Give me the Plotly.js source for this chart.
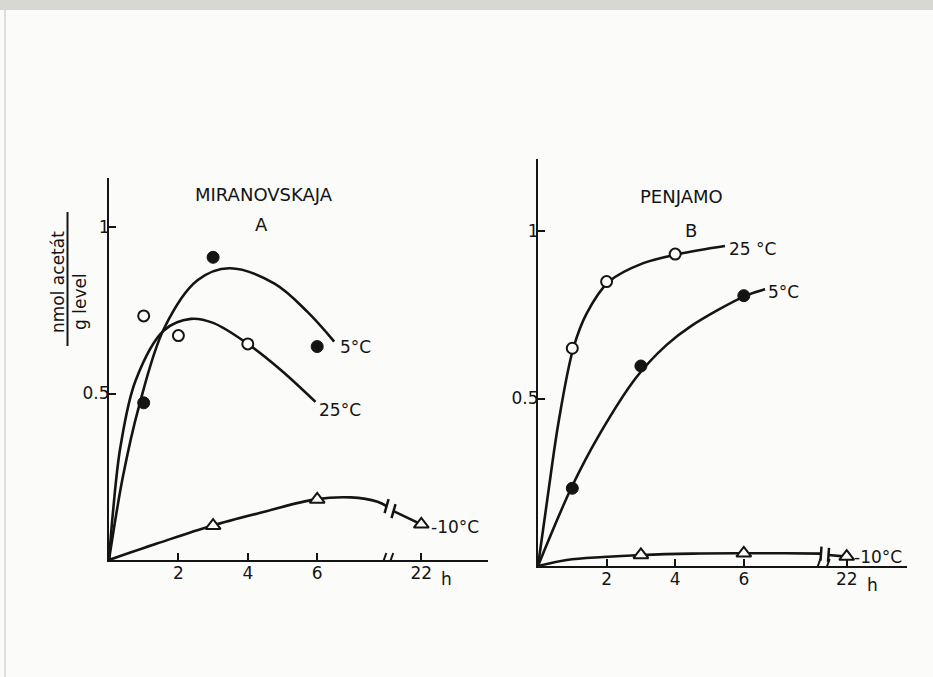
<!DOCTYPE html>
<html><head><meta charset="utf-8">
<script src="https://cdn.plot.ly/plotly-3.0.1.min.js"></script>
<style>html,body{margin:0;padding:0;background:#fbfbf9}</style>
</head><body><div id="chart" style="width:933px;height:677px"></div>
<script>
// ---------- data (hours, nmol acetát / g level) ----------
// Panel A: MIRANOVSKAJA
const A_5C_hours = [1, 3, 6];
const A_5C_vals  = [0.472, 0.909, 0.641];
const A_25C_hours = [1, 2, 4];
const A_25C_vals  = [0.733, 0.674, 0.649];
const A_m10_hours = [3, 6, 22];
const A_m10_vals  = [0.103, 0.182, 0.107];
// hand-drawn guide curves
const A_5C_curve_h = [0, 0.4, 0.86, 1.59, 2.55, 3.47, 4.77, 5.72, 6.49];
const A_5C_curve_v = [0, 0.25, 0.46, 0.696, 0.84, 0.876, 0.83, 0.745, 0.656];
const A_25C_curve_h = [0, 0.12, 0.33, 0.77, 1.59, 2.36, 3.0, 4.0, 4.96, 5.95];
const A_25C_curve_v = [0, 0.15, 0.34, 0.54, 0.69, 0.724, 0.712, 0.649, 0.57, 0.475];
const A_m10_curve_h  = [0, 1.4, 2.96, 4.48, 5.94, 6.97, 7.74, 8.0];
const A_m10_curve_v  = [0, 0.05, 0.103, 0.145, 0.182, 0.188, 0.175, 0.162];
const A_m10_curve2_h = [21.2, 22];
const A_m10_curve2_v = [0.147, 0.107];

// Panel B: PENJAMO
const B_25C_hours = [1, 2, 4];
const B_25C_vals  = [0.65, 0.849, 0.931];
const B_5C_hours = [1, 3, 6];
const B_5C_vals  = [0.232, 0.597, 0.807];
const B_m10_hours = [3, 6, 22];
const B_m10_vals  = [0.033, 0.038, 0.028];
const B_25C_curve_h = [0, 0.3, 0.6, 1.03, 1.42, 2.07, 3.07, 4.09, 5.45];
const B_25C_curve_v = [0, 0.22, 0.43, 0.65, 0.754, 0.849, 0.904, 0.931, 0.955];
const B_5C_curve_h = [0, 0.98, 1.81, 2.88, 3.75, 4.43, 6.06, 6.62];
const B_5C_curve_v = [0, 0.235, 0.396, 0.565, 0.66, 0.714, 0.807, 0.826];
const B_m10_curve_h  = [0, 0.84, 1.9, 3.02, 4.5, 5.99, 7.2, 8.25];
const B_m10_curve_v  = [0, 0.018, 0.027, 0.033, 0.037, 0.038, 0.038, 0.037];
const B_m10_curve2_h = [21.47, 22];
const B_m10_curve2_v = [0.033, 0.028];

// axis ticks
const xTickHours = [2, 4, 6, 22];
const xTickText  = ['2', '4', '6', '22'];
const yTickVals  = [0.5, 1];
const yTickText  = ['0.5', '1'];

// broken time axis: hours past the break are shifted left
const BREAK_SHIFT = 13;
const pos = h => (h >= 20 ? h - BREAK_SHIFT : h);
const P = arr => arr.map(pos);

const INK = '#141414';
const FONT = 'DejaVu Sans, Liberation Sans, sans-serif';
const BG = '#fbfbf9';

function line(xh, v, xa, ya) {
  return {x: P(xh), y: v, xaxis: xa, yaxis: ya, mode: 'lines', type: 'scatter',
    line: {color: INK, width: 2.6, shape: 'spline', smoothing: 1.0}, hoverinfo: 'skip', cliponaxis: false};
}
function marks(xh, v, xa, ya, kind) {
  let marker;
  if (kind === 'open') marker = {symbol: 'circle', size: 11, color: BG, line: {color: INK, width: 2}};
  else if (kind === 'filled') marker = {symbol: 'circle', size: 12, color: INK, line: {color: INK, width: 1}};
  else marker = {symbol: 'triangle-up', size: 13, color: BG, line: {color: INK, width: 2}};
  return {x: P(xh), y: v, xaxis: xa, yaxis: ya, mode: 'markers', type: 'scatter', marker, cliponaxis: false};
}

const data = [
  line(A_5C_curve_h, A_5C_curve_v, 'x', 'y'),
  line(A_25C_curve_h, A_25C_curve_v, 'x', 'y'),
  line(A_m10_curve_h, A_m10_curve_v, 'x', 'y'),
  line(A_m10_curve2_h, A_m10_curve2_v, 'x', 'y'),
  marks(A_5C_hours, A_5C_vals, 'x', 'y', 'filled'),
  marks(A_25C_hours, A_25C_vals, 'x', 'y', 'open'),
  marks(A_m10_hours, A_m10_vals, 'x', 'y', 'tri'),
  line(B_25C_curve_h, B_25C_curve_v, 'x2', 'y2'),
  line(B_5C_curve_h, B_5C_curve_v, 'x2', 'y2'),
  line(B_m10_curve_h, B_m10_curve_v, 'x2', 'y2'),
  line(B_m10_curve2_h, B_m10_curve2_v, 'x2', 'y2'),
  marks(B_25C_hours, B_25C_vals, 'x2', 'y2', 'open'),
  marks(B_5C_hours, B_5C_vals, 'x2', 'y2', 'filled'),
  marks(B_m10_hours, B_m10_vals, 'x2', 'y2', 'tri')
];

const W = 933, H = 677;
const px = v => v / W, py = v => 1 - v / H;

function xAxis(d0, d1, rmax, anchor) {
  return {domain: [px(d0), px(d1)], range: [0, rmax], anchor, showline: true, linewidth: 2, linecolor: INK,
    showgrid: false, zeroline: false, ticks: 'inside', ticklen: 7, tickwidth: 2, tickcolor: INK, ticklabelstandoff: -3,
    tickvals: P(xTickHours), ticktext: xTickText, tickfont: {family: FONT, size: 17, color: INK}, fixedrange: true};
}
function yAxis(d0, d1, rmax, anchor) {
  return {domain: [py(d1), py(d0)], range: [0, rmax], anchor, showline: true, linewidth: 2, linecolor: INK,
    showgrid: false, zeroline: false, ticks: 'inside', ticklen: 7, tickwidth: 2, tickcolor: INK, ticklabelstandoff: -6,
    tickvals: yTickVals, ticktext: yTickText, tickfont: {family: FONT, size: 17, color: INK}, fixedrange: true};
}

const shapes = [];
// scan edge at top
shapes.push({type: 'rect', xref: 'paper', yref: 'paper', x0: 0, x1: 1, y0: py(10), y1: 1, fillcolor: '#d8d8d2', line: {width: 0}, layer: 'below'});
shapes.push({type: 'line', xref: 'paper', yref: 'paper', x0: px(5), x1: px(5), y0: 0, y1: py(10), line: {color: '#d4d4d0', width: 1.5}, layer: 'below'});
// fraction bar of the y title
shapes.push({type: 'line', xref: 'paper', yref: 'paper', x0: px(67.5), x1: px(67.5), y0: py(212), y1: py(346), line: {color: INK, width: 2}});

// axis breaks
function axisBreak(xr, yr, b0, b1, pxPerX, pxPerY) {
  const dx = 2.5 / pxPerX, dy = 7 / pxPerY;
  shapes.push({type: 'rect', xref: xr, yref: yr, x0: b0, x1: b1, y0: -3 / pxPerY, y1: 3 / pxPerY, fillcolor: BG, line: {width: 0}, layer: 'above'});
  [b0, b1].forEach(b => shapes.push({type: 'line', xref: xr, yref: yr, x0: b - dx, x1: b + dx, y0: -dy, y1: dy, line: {color: INK, width: 2}, layer: 'above'}));
}
function curveBreak(xr, yr, xh, v, pxPerX, pxPerY, tilt) {
  const dx = tilt / pxPerX, dy = 7 / pxPerY;
  shapes.push({type: 'line', xref: xr, yref: yr, x0: pos(xh) - dx, x1: pos(xh) + dx, y0: v - dy, y1: v + dy, line: {color: INK, width: 2.5}});
}
const sxA = 34.7, syA = 333, sxB = 34.3, syB = 335;
axisBreak('x', 'y', 7.92, 8.12, sxA, syA);
axisBreak('x2', 'y2', 8.16, 8.43, sxB, syB);
curveBreak('x', 'y', A_m10_curve_h[A_m10_curve_h.length - 1], A_m10_curve_v[A_m10_curve_v.length - 1], sxA, syA, 2);
curveBreak('x', 'y', A_m10_curve2_h[0], A_m10_curve2_v[0], sxA, syA, 2);
curveBreak('x2', 'y2', B_m10_curve_h[B_m10_curve_h.length - 1], B_m10_curve_v[B_m10_curve_v.length - 1], sxB, syB, 0.5);
curveBreak('x2', 'y2', B_m10_curve2_h[0], B_m10_curve2_v[0], sxB, syB, 0.5);

const txt = (text, x, y, size, extra) => Object.assign({text, x, y, xref: 'paper', yref: 'paper', showarrow: false,
  font: {family: FONT, size, color: INK}, xanchor: 'center', yanchor: 'middle'}, extra || {});
const endLabel = (text, xh, v, xr, yr, xs, ys) => ({text, x: pos(xh), y: v, xref: xr, yref: yr, showarrow: false,
  xanchor: 'left', yanchor: 'middle', xshift: xs, yshift: ys, font: {family: FONT, size: 17, color: INK}});
const last = a => a[a.length - 1];

const annotations = [
  txt('MIRANOVSKAJA', px(264), py(194), 18),
  txt('A', px(261), py(224), 18),
  txt('PENJAMO', px(681), py(197), 18),
  txt('B', px(691), py(230), 18),
  txt('nmol acetát', px(58), py(282), 17, {textangle: -90}),
  txt('g level', px(80), py(302), 17, {textangle: -90}),
  endLabel('5°C', last(A_5C_curve_h), last(A_5C_curve_v), 'x', 'y', 4, -5),
  endLabel('25°C', last(A_25C_curve_h), last(A_25C_curve_v), 'x', 'y', 2, -8),
  endLabel('-10°C', last(A_m10_hours), last(A_m10_vals), 'x', 'y', 8, -3),
  endLabel('25 °C', last(B_25C_curve_h), last(B_25C_curve_v), 'x2', 'y2', 2, -3),
  endLabel('5°C', last(B_5C_curve_h), last(B_5C_curve_v), 'x2', 'y2', 1, -3),
  endLabel('-10°C', last(B_m10_hours), last(B_m10_vals), 'x2', 'y2', 5, 0),
  {text: 'h', x: 9.74, y: 0, xref: 'x', yref: 'y', showarrow: false, yanchor: 'top', yshift: -7, font: {family: FONT, size: 17, color: INK}},
  {text: 'h', x: 9.74, y: 0, xref: 'x2', yref: 'y2', showarrow: false, yanchor: 'top', yshift: -7, font: {family: FONT, size: 17, color: INK}}
];

const layout = {
  width: W, height: H, margin: {l: 0, r: 0, t: 0, b: 0}, paper_bgcolor: BG, plot_bgcolor: 'rgba(0,0,0,0)',
  showlegend: false, font: {family: FONT, color: INK},
  xaxis: xAxis(109, 488, (488 - 109) / sxA, 'y'),
  yaxis: yAxis(178, 560, (560 - 178) / syA, 'x'),
  xaxis2: xAxis(538, 907, (907 - 538) / sxB, 'y2'),
  yaxis2: yAxis(159, 566, (566 - 159) / syB, 'x2'),
  shapes, annotations
};
Plotly.newPlot('chart', data, layout, {displayModeBar: false, staticPlot: true});
</script></body></html>
